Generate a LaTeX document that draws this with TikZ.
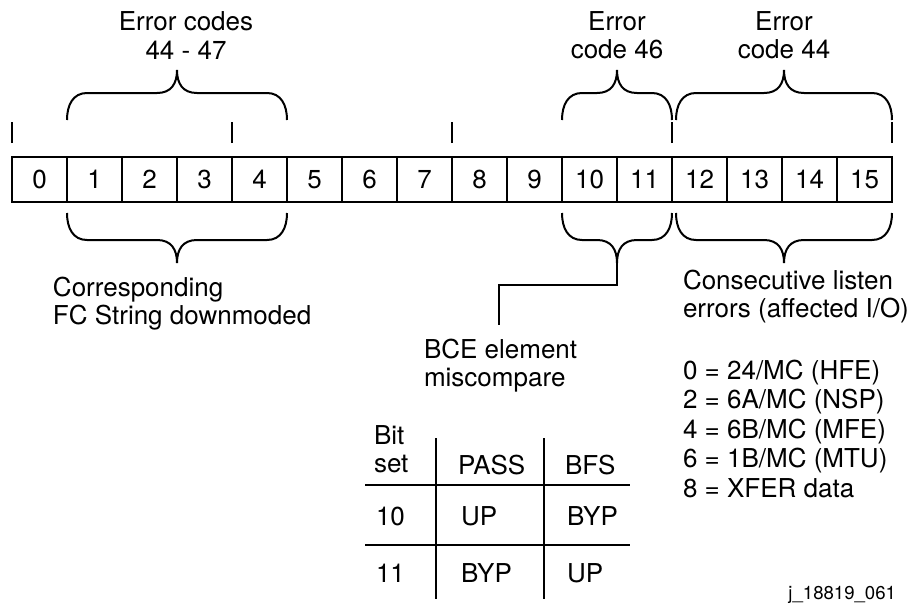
\documentclass[tikz,border=0pt]{standalone}
\usepackage{fontspec}
\setmainfont{TeX Gyre Heros}
\usetikzlibrary{positioning}

% curly brace over a run of bits, #1 = width
\tikzset{
  pics/bitbrace/.style={code={
    \draw (0,0) .. controls (0,15) and (6,27) .. (20,27)
      -- ({#1/2-20},27) .. controls ({#1/2-6},27) and ({#1/2},36) .. ({#1/2},50)
      .. controls ({#1/2},36) and ({#1/2+6},27) .. ({#1/2+20},27)
      -- ({#1-20},27) .. controls ({#1-6},27) and (#1,15) .. (#1,0);
    \coordinate (-tip) at ({#1/2},50);
  }}
}

\begin{document}
\begin{tikzpicture}[x=0.5pt,y=0.5pt,line width=1pt,font=\fontsize{13}{14}\selectfont,
  bitcell/.style={draw,minimum width=27.5pt,minimum height=22.5pt,inner sep=0pt,outer sep=0pt},
  lbl/.style={inner sep=0pt,align=left},
  tcell/.style={inner sep=0pt,anchor=base west}]
  \useasboundingbox (0,0) rectangle (916,607);
  % register
  \foreach \i in {0,...,15}
    \node[bitcell] (b\i) at (39.5+55*\i,427.5) {\i};
  \foreach \i in {0,4,8,12}
    \draw ([yshift=7pt]b\i.north west) -- ++(0,21);
  \draw ([yshift=7pt]b15.north east) -- ++(0,21);
  % braces
  \pic (ecA) at ([yshift=18.5pt]b1.north west) {bitbrace=220};
  \pic (ecB) at ([yshift=18.5pt]b10.north west) {bitbrace=110};
  \pic (ecC) at ([xshift=2pt,yshift=18.5pt]b12.north west) {bitbrace=216};
  \pic[yscale=-1] (fcD) at ([yshift=-5.5pt]b1.south west) {bitbrace=220};
  \pic[yscale=-1] (fcE) at ([yshift=-5.5pt]b10.south west) {bitbrace=110};
  \pic[yscale=-1] (fcF) at ([xshift=2pt,yshift=-5.5pt]b12.south west) {bitbrace=216};
  % labels
  \node[lbl,align=center,above=5pt] (errA) at ([xshift=4.5pt]ecA-tip) {Error codes\\44 - 47};
  \node[lbl,align=center,above=5pt] (errB) at (ecB-tip) {Error\\code 46};
  \node[lbl,align=center,above=5pt] (errC) at (ecC-tip) {Error\\code 44};
  \node[lbl,anchor=north west] (fcstr) at (52,331) {Corresponding\\FC String downmoded};
  \coordinate (bcelead) at (499,282);
  \node[lbl,anchor=north west] (bce) at (423,269) {BCE element\\miscompare};
  \draw (fcE-tip) -- ++(0,-22) -| (bcelead);
  \node[lbl,anchor=north west] (listen) at (682,338) {Consecutive listen\\errors (affected I/O)};
  \node[lbl,anchor=north west,font=\fontsize{13}{14.75}\selectfont] (codes) at (682,248)
    {0 = 24/MC (HFE)\\2 = 6A/MC (NSP)\\4 = 6B/MC (MFE)\\6 = 1B/MC (MTU)\\8 = XFER data};
  % bit table
  \node[lbl,anchor=north west] (bitset) at (373,182) {Bit\\set};
  \node[tcell] (pass) at (457,133) {PASS};
  \node[tcell] (bfs) at (564,133) {BFS};
  \foreach \y/\n/\a/\b in {82/10/UP/BYP,25/11/BYP/UP} {
    \node[tcell] (r\n) at (375,\y) {\n};
    \node[tcell] (r\n a) at (460,\y) {\a};
    \node[tcell] (r\n b) at (566,\y) {\b};
  }
  \draw (436,169) -- (436,8) (544,169) -- (544,8);
  \draw (365,122) -- (630,122) (365,62) -- (630,62);
  \node[inner sep=0pt,anchor=base east,font=\fontsize{9.3}{11}\selectfont] (figid) at (897,8) {j\_18819\_061};
\end{tikzpicture}
\end{document}
